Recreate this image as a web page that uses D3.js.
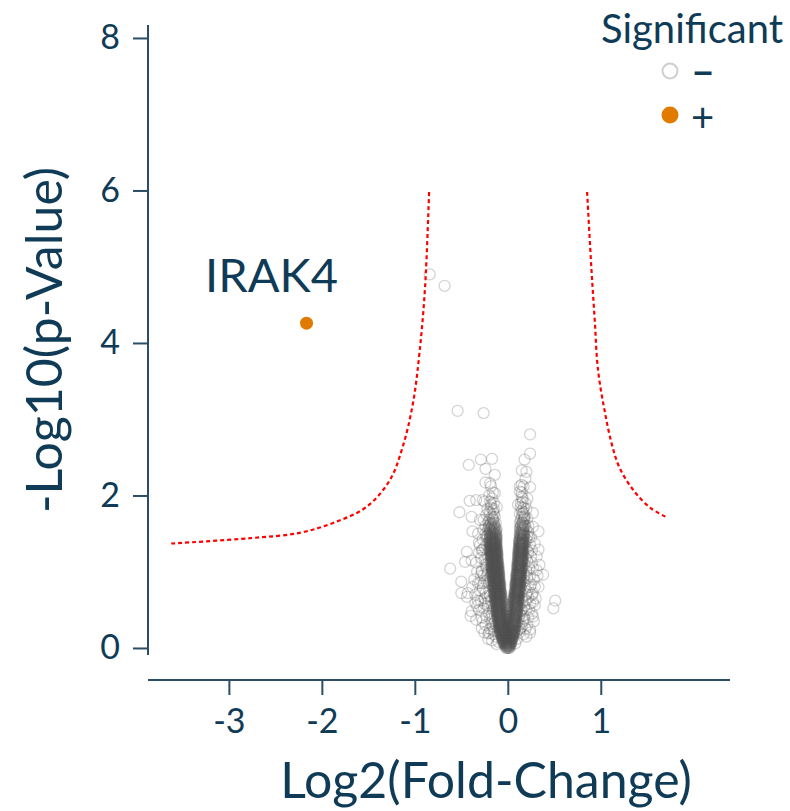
<!DOCTYPE html>
<html><head><meta charset="utf-8">
<script src="https://cdn.jsdelivr.net/npm/d3@7"></script>
<style>
body{margin:0;background:#fff}
svg{display:block}
text{font-family:Lato,"Open Sans",sans-serif}
</style>
</head><body>
<svg id="chart" width="790" height="811"></svg>
<script>
// ---------------- data ----------------
const xTickValues = [-3, -2, -1, 0, 1];
const yTickValues = [0, 2, 4, 6, 8];
const xTitle = "Log2(Fold-Change)";
const yTitle = "-Log10(p-Value)";
const legendTitle = "Significant";
const legendLabels = ["\u2212", "+"];

// significant protein
const sigLabels = ["IRAK4"];
const sigX = [-2.165];
const sigY = [4.26];

// significance threshold curves
const threshLeft = [[-3.62,1.37],[-2.77,1.44],[-2.24,1.51],[-1.88,1.64],[-1.52,1.85],[-1.27,2.20],[-1.13,2.64],[-1.02,3.21],[-0.95,3.87],[-0.89,4.73],[-0.846,6.0]];
const threshRight = [[0.853,5.98],[0.90,4.96],[0.935,4.30],[0.97,3.65],[1.04,3.12],[1.115,2.69],[1.20,2.37],[1.35,2.07],[1.53,1.84],[1.70,1.72]];

// non-significant proteins: scattered outer points [log2FC, -log10 p]
const outerPoints = [[-0.84,4.90],[-0.68,4.75],[-0.54,3.11],[-0.26,3.08],[0.24,2.80],[0.24,2.55],[-0.42,2.40],[-0.29,2.47],[-0.17,2.48],[-0.24,2.35],[0.18,2.47],[0.15,2.33],[0.20,2.31],[-0.14,2.27],[-0.24,2.17],[-0.19,2.16],[0.15,2.14],[0.24,2.11],[0.19,2.22],[-0.14,2.03],[-0.41,1.93],[-0.34,1.94],[-0.27,1.94],[-0.19,1.92],[-0.12,1.85],[0.11,1.88],[0.21,1.96],[-0.52,1.78],[-0.39,1.72],[0.18,1.74],[0.27,1.77],[-0.30,1.68],[-0.38,1.53],[-0.32,1.50],[0.33,1.53],[0.27,1.59],[-0.44,1.26],[-0.46,1.13],[-0.39,1.15],[-0.30,1.35],[0.29,1.37],[0.33,1.29],[0.34,1.09],[0.38,0.96],[-0.62,1.04],[-0.50,0.87],[-0.50,0.72],[-0.43,0.72],[-0.39,0.48],[-0.40,0.42],[-0.28,0.26],[0.51,0.62],[0.49,0.52],[0.27,0.72],[0.29,0.56],[0.24,0.24],[0.20,0.15],[-0.21,0.19],[-0.35,0.59],[-0.32,0.85],[-0.28,1.00],[0.31,1.02],[0.25,1.20],[0.20,1.55],[-0.23,1.46],[-0.27,1.29],[0.25,0.83],[0.27,0.41],[-0.44,0.67],[-0.34,0.37]];

// medium-density halo around the core
const haloPoints = [[-0.13,0.15],[-0.15,0.22],[-0.12,0.30],[-0.17,0.35],[-0.14,0.42],[-0.20,0.45],[-0.16,0.50],[-0.22,0.55],[-0.13,0.58],[-0.18,0.62],[-0.25,0.65],[-0.15,0.70],[-0.20,0.75],[-0.27,0.78],[-0.17,0.82],[-0.23,0.88],[-0.19,0.92],[-0.26,0.95],[-0.21,1.00],[-0.18,1.05],[-0.24,1.10],[-0.20,1.15],[-0.29,1.18],[-0.22,1.22],[-0.19,1.27],[-0.25,1.32],[-0.21,1.38],[-0.27,1.42],[-0.22,1.48],[-0.19,1.55],[-0.24,1.60],[-0.21,1.65],[-0.16,1.70],[-0.20,1.78],[-0.15,1.82],[-0.18,1.88],[-0.23,1.75],[-0.31,0.50],[-0.28,0.40],[-0.24,0.30],[-0.19,0.25],[-0.21,0.12],[-0.10,0.08],[-0.30,0.85],[-0.33,1.00],[-0.35,0.70],[-0.31,1.25],[-0.36,0.90],[-0.12,0.05],[-0.16,0.78],[-0.22,0.68],[-0.18,0.98],[-0.23,1.05],[-0.17,1.40],[-0.26,1.55],[-0.15,0.55],[-0.29,0.62],[-0.25,0.20],[-0.17,0.10],
[-0.16,0.28],[-0.19,0.38],[-0.23,0.42],[-0.17,0.55],[-0.21,0.60],[-0.26,0.52],[-0.19,0.68],[-0.24,0.72],[-0.30,0.75],[-0.18,0.88],[-0.22,0.95],[-0.28,1.02],[-0.25,1.16],[-0.20,1.30],[-0.23,1.36],[-0.28,1.28],[-0.19,1.45],[-0.24,1.50],[-0.21,1.56],[-0.26,1.68],[-0.22,1.82],[-0.25,1.92],[-0.20,2.00],[-0.14,0.35],[-0.27,0.35],[-0.32,0.62],[-0.29,0.95],[-0.34,1.12],[-0.26,0.85],[-0.15,0.18],[-0.20,0.20],[-0.11,0.22],[-0.33,0.55],[-0.38,0.80],[-0.31,1.38],[-0.17,0.45],[-0.22,1.10],[-0.18,1.20],[-0.25,0.58],[-0.20,0.85],
[0.10,0.12],[0.12,0.20],[0.15,0.28],[0.10,0.34],[0.18,0.38],[0.13,0.44],[0.20,0.50],[0.12,0.55],[0.16,0.60],[0.22,0.66],[0.14,0.72],[0.19,0.78],[0.24,0.80],[0.16,0.86],[0.21,0.92],[0.17,0.98],[0.23,1.04],[0.18,1.10],[0.26,1.12],[0.19,1.18],[0.22,1.25],[0.18,1.30],[0.24,1.35],[0.20,1.42],[0.17,1.48],[0.22,1.52],[0.19,1.60],[0.16,1.65],[0.21,1.70],[0.17,1.78],[0.14,1.85],[0.19,1.90],[0.15,1.98],[0.13,2.05],[0.17,2.12],[0.28,0.90],[0.30,0.65],[0.26,0.45],[0.21,0.30],[0.17,0.18],[0.08,0.06],[0.24,0.20],[0.31,1.20],[0.27,0.60],[0.33,0.80],[0.15,0.50],[0.20,0.70],[0.14,0.95],[0.17,1.22],[0.23,1.45],[0.12,0.40],[0.18,0.88],
[0.13,0.25],[0.16,0.35],[0.22,0.40],[0.14,0.48],[0.18,0.55],[0.24,0.58],[0.15,0.65],[0.21,0.74],[0.26,0.70],[0.14,0.80],[0.18,0.95],[0.24,0.95],[0.20,1.02],[0.27,1.05],[0.16,1.15],[0.21,1.14],[0.20,1.30],[0.26,1.28],[0.19,1.38],[0.22,1.60],[0.18,1.70],[0.20,1.82],[0.16,1.92],[0.29,0.80],[0.23,0.50],[0.10,0.22],[0.19,0.25],[0.28,0.35],[0.32,0.95],[0.25,1.45],[0.17,0.42],[0.16,1.05],[0.21,1.46],[0.12,0.30],[0.20,0.62]];

// dense core: each row = [ -log10 p, [log2FC values] ]
const coreRows = [
[0.00,[-0.02,-0.01,0,0.01,0.02]],
[0.02,[-0.025,-0.015,-0.005,0.005,0.015,0.025]],
[0.04,[-0.03,-0.02,-0.01,0,0.01,0.02,0.03]],
[0.06,[-0.045,-0.035,-0.025,-0.015,-0.005,0.005,0.015,0.025,0.035]],
[0.08,[-0.05,-0.04,-0.03,-0.02,-0.01,0,0.01,0.02,0.03,0.04]],
[0.10,[-0.055,-0.045,-0.035,-0.025,-0.015,-0.005,0.005,0.015,0.025,0.035,0.045]],
[0.12,[-0.06,-0.05,-0.04,-0.03,-0.02,-0.01,0,0.01,0.02,0.03,0.04,0.05]],
[0.14,[-0.065,-0.055,-0.045,-0.035,-0.025,-0.015,-0.005,0.005,0.015,0.025,0.035,0.045,0.055]],
[0.16,[-0.07,-0.06,-0.05,-0.04,-0.03,-0.02,-0.01,0,0.01,0.02,0.03,0.04,0.05,0.06]],
[0.18,[-0.075,-0.065,-0.055,-0.045,-0.035,-0.025,-0.015,0.005,0.025,0.035,0.045,0.055,0.065]],
[0.20,[-0.08,-0.07,-0.06,-0.05,-0.04,-0.03,-0.02,0,0.02,0.03,0.04,0.05,0.06,0.07]],
[0.22,[-0.085,-0.075,-0.065,-0.055,-0.045,-0.035,-0.015,0.015,0.035,0.045,0.055,0.065,0.075]],
[0.24,[-0.09,-0.08,-0.07,-0.06,-0.05,-0.04,-0.02,0,0.02,0.04,0.05,0.06,0.07]],
[0.26,[-0.095,-0.085,-0.075,-0.065,-0.055,-0.045,-0.025,0.005,0.035,0.045,0.055,0.065,0.075]],
[0.28,[-0.09,-0.08,-0.07,-0.06,-0.05,-0.03,0,0.03,0.05,0.06,0.07,0.08]],
[0.30,[-0.095,-0.085,-0.075,-0.065,-0.055,-0.035,-0.005,0.025,0.045,0.055,0.065,0.075,0.085]],
[0.32,[-0.10,-0.09,-0.08,-0.07,-0.06,-0.04,-0.01,0.02,0.05,0.06,0.07,0.08]],
[0.34,[-0.105,-0.095,-0.085,-0.075,-0.065,-0.045,0.005,0.045,0.065,0.075,0.085]],
[0.36,[-0.10,-0.09,-0.08,-0.07,-0.06,-0.04,0,0.04,0.06,0.07,0.08,0.09]],
[0.38,[-0.105,-0.095,-0.085,-0.075,-0.065,-0.045,-0.015,0.025,0.055,0.065,0.075,0.085]],
[0.40,[-0.11,-0.10,-0.09,-0.08,-0.07,-0.05,0,0.05,0.07,0.08,0.09]],
[0.42,[-0.115,-0.105,-0.095,-0.085,-0.075,-0.055,-0.015,0.025,0.055,0.075,0.085,0.095]],
[0.44,[-0.11,-0.10,-0.09,-0.08,-0.07,-0.05,0,0.05,0.07,0.08,0.09,0.10]],
[0.46,[-0.115,-0.105,-0.095,-0.085,-0.075,-0.055,-0.015,0.025,0.065,0.075,0.085,0.095]],
[0.48,[-0.12,-0.11,-0.10,-0.09,-0.08,-0.06,0,0.06,0.08,0.09,0.10]],
[0.50,[-0.125,-0.115,-0.105,-0.095,-0.085,-0.065,-0.025,0.025,0.065,0.085,0.095,0.105]],
[0.52,[-0.12,-0.11,-0.10,-0.09,-0.08,-0.06,0,0.06,0.08,0.09,0.10]],
[0.54,[-0.125,-0.115,-0.105,-0.095,-0.085,-0.065,-0.035,0.035,0.065,0.085,0.095,0.105]],
[0.56,[-0.12,-0.11,-0.10,-0.09,-0.08,-0.07,0,0.07,0.08,0.09,0.10,0.11]],
[0.58,[-0.125,-0.115,-0.105,-0.095,-0.085,-0.075,-0.055,0.055,0.075,0.085,0.095,0.105]],
[0.60,[-0.13,-0.12,-0.11,-0.10,-0.09,-0.08,-0.06,0.06,0.08,0.09,0.10,0.11]],
[0.62,[-0.135,-0.125,-0.115,-0.105,-0.095,-0.085,-0.065,0.065,0.075,0.085,0.095,0.105,0.115]],
[0.64,[-0.13,-0.12,-0.11,-0.10,-0.09,-0.08,-0.07,0.06,0.07,0.08,0.09,0.10,0.11,0.12]],
[0.66,[-0.135,-0.125,-0.115,-0.105,-0.095,-0.085,-0.065,0.065,0.075,0.085,0.095,0.105,0.115]],
[0.68,[-0.14,-0.13,-0.12,-0.11,-0.10,-0.09,-0.08,-0.07,0.07,0.08,0.09,0.10,0.11,0.12]],
[0.70,[-0.145,-0.135,-0.125,-0.115,-0.105,-0.095,-0.085,-0.075,0.075,0.085,0.095,0.105,0.115]],
[0.72,[-0.14,-0.13,-0.12,-0.11,-0.10,-0.09,-0.08,-0.07,0.07,0.08,0.09,0.10,0.11,0.12]],
[0.74,[-0.145,-0.135,-0.125,-0.115,-0.105,-0.095,-0.085,-0.075,0.075,0.085,0.095,0.105,0.115,0.125]],
[0.76,[-0.15,-0.14,-0.13,-0.12,-0.11,-0.10,-0.09,-0.08,0.08,0.09,0.10,0.11,0.12,0.13]],
[0.78,[-0.145,-0.135,-0.125,-0.115,-0.105,-0.095,-0.085,0.085,0.095,0.105,0.115,0.125]],
[0.80,[-0.15,-0.14,-0.13,-0.12,-0.11,-0.10,-0.09,-0.08,0.08,0.09,0.10,0.11,0.12,0.13]],
[0.82,[-0.155,-0.145,-0.135,-0.125,-0.115,-0.105,-0.095,-0.085,0.085,0.095,0.105,0.115,0.125]],
[0.84,[-0.15,-0.14,-0.13,-0.12,-0.11,-0.10,-0.09,-0.08,0.08,0.09,0.10,0.11,0.12,0.13]],
[0.86,[-0.155,-0.145,-0.135,-0.125,-0.115,-0.105,-0.095,-0.085,0.085,0.095,0.105,0.115,0.125,0.135]],
[0.88,[-0.16,-0.15,-0.14,-0.13,-0.12,-0.11,-0.10,-0.09,0.09,0.10,0.11,0.12,0.13,0.14]],
[0.90,[-0.155,-0.145,-0.135,-0.125,-0.115,-0.105,-0.095,0.095,0.105,0.115,0.125,0.135]],
[0.92,[-0.16,-0.15,-0.14,-0.13,-0.12,-0.11,-0.10,-0.09,0.09,0.10,0.11,0.12,0.13,0.14]],
[0.94,[-0.165,-0.155,-0.145,-0.135,-0.125,-0.115,-0.105,-0.095,0.095,0.105,0.115,0.125,0.135]],
[0.96,[-0.16,-0.15,-0.14,-0.13,-0.12,-0.11,-0.10,-0.09,0.09,0.10,0.11,0.12,0.13,0.14]],
[0.98,[-0.165,-0.155,-0.145,-0.135,-0.125,-0.115,-0.105,-0.095,0.095,0.105,0.115,0.125,0.135,0.145]],
[1.00,[-0.17,-0.16,-0.15,-0.14,-0.13,-0.12,-0.11,-0.10,0.10,0.11,0.12,0.13,0.14]],
[1.02,[-0.165,-0.155,-0.145,-0.135,-0.125,-0.115,-0.105,-0.095,0.105,0.115,0.125,0.135,0.145]],
[1.04,[-0.17,-0.16,-0.15,-0.14,-0.13,-0.12,-0.11,-0.10,0.10,0.11,0.12,0.13,0.14,0.15]],
[1.06,[-0.175,-0.165,-0.155,-0.145,-0.135,-0.125,-0.115,-0.105,0.105,0.115,0.125,0.135,0.145]],
[1.08,[-0.17,-0.16,-0.15,-0.14,-0.13,-0.12,-0.11,-0.10,0.10,0.11,0.12,0.13,0.14,0.15]],
[1.10,[-0.175,-0.165,-0.155,-0.145,-0.135,-0.125,-0.115,-0.105,0.105,0.115,0.125,0.135,0.145]],
[1.12,[-0.18,-0.17,-0.16,-0.15,-0.14,-0.13,-0.12,-0.11,0.11,0.12,0.13,0.14,0.15]],
[1.14,[-0.175,-0.165,-0.155,-0.145,-0.135,-0.125,-0.115,-0.105,0.105,0.115,0.125,0.135,0.145,0.155]],
[1.16,[-0.18,-0.17,-0.16,-0.15,-0.14,-0.13,-0.12,-0.11,0.11,0.12,0.13,0.14,0.15,0.16]],
[1.18,[-0.175,-0.165,-0.155,-0.145,-0.135,-0.125,-0.115,0.115,0.125,0.135,0.145,0.155]],
[1.20,[-0.18,-0.17,-0.16,-0.15,-0.14,-0.13,-0.12,-0.11,0.11,0.12,0.13,0.14,0.15,0.16]],
[1.22,[-0.185,-0.175,-0.165,-0.155,-0.145,-0.135,-0.125,-0.115,0.115,0.125,0.135,0.145,0.155]],
[1.24,[-0.18,-0.17,-0.16,-0.15,-0.14,-0.13,-0.12,-0.11,0.11,0.12,0.13,0.14,0.15,0.16]],
[1.26,[-0.185,-0.175,-0.165,-0.155,-0.145,-0.135,-0.125,-0.115,0.115,0.125,0.135,0.145,0.155,0.165]],
[1.28,[-0.19,-0.18,-0.17,-0.16,-0.15,-0.14,-0.13,-0.12,0.12,0.13,0.14,0.15,0.16]],
[1.30,[-0.185,-0.175,-0.165,-0.155,-0.145,-0.135,-0.125,-0.115,0.115,0.125,0.135,0.145,0.155,0.165]],
[1.32,[-0.19,-0.18,-0.17,-0.16,-0.15,-0.14,-0.13,-0.12,0.12,0.13,0.14,0.15,0.16]],
[1.34,[-0.185,-0.175,-0.165,-0.155,-0.145,-0.135,-0.125,0.125,0.135,0.145,0.155,0.165]],
[1.36,[-0.19,-0.18,-0.17,-0.16,-0.15,-0.14,-0.13,-0.12,0.12,0.13,0.14,0.15,0.16,0.17]],
[1.38,[-0.195,-0.175,-0.165,-0.155,-0.145,-0.135,-0.125,0.125,0.135,0.145,0.155,0.165]],
[1.40,[-0.19,-0.18,-0.16,-0.15,-0.14,-0.13,-0.12,0.12,0.13,0.15,0.16,0.17]],
[1.42,[-0.195,-0.175,-0.165,-0.145,-0.125,0.125,0.145,0.155,0.165]],
[1.44,[-0.19,-0.17,-0.16,-0.14,-0.13,-0.12,0.13,0.14,0.16,0.17]],
[1.46,[-0.185,-0.165,-0.145,-0.125,0.135,0.155,0.175]],
[1.48,[-0.19,-0.17,-0.15,-0.13,-0.12,0.13,0.14,0.16,0.17]],
[1.50,[-0.195,-0.175,-0.155,-0.135,0.135,0.155,0.175]],
[1.52,[-0.19,-0.17,-0.15,-0.13,0.13,0.15,0.17]],
[1.54,[-0.185,-0.165,-0.145,-0.125,0.145,0.165]],
[1.56,[-0.19,-0.16,-0.14,-0.12,0.13,0.15,0.17]],
[1.58,[-0.205,-0.175,-0.145,0.135,0.165]],
[1.60,[-0.20,-0.17,-0.14,0.14,0.16,0.18]],
[1.62,[-0.185,-0.155,0.145,0.175]],
[1.64,[-0.18,-0.15,-0.13,0.13,0.16]],
[1.68,[-0.20,-0.16,0.14,0.17]],
[1.72,[-0.17,-0.14,0.15,0.18]],
[1.76,[-0.19,-0.15,0.13,0.16]],
[1.80,[-0.16,0.15]],
[1.84,[-0.18,0.17]],
[1.90,[-0.15,0.14]],
[1.96,[-0.17,0.16]],
[2.04,[-0.16,0.15]],
[2.12,[-0.18,0.13]]
];

// ---------------- drawing ----------------
const navy = "#0f3b57";
const axisCol = "#2a4e66";
const svg = d3.select("#chart");

const x = d3.scaleLinear().domain([-3.87, 2.39]).range([148, 730]);
const y = d3.scaleLinear().domain([-0.42, 8.17]).range([680, 25]);

// points
const nonSig = [];
coreRows.forEach(r => r[1].forEach(v => nonSig.push([v, r[0]])));
haloPoints.forEach(p => nonSig.push(p));
outerPoints.forEach(p => nonSig.push(p));

svg.append("g").selectAll("circle").data(nonSig).join("circle")
  .attr("cx", d => x(d[0])).attr("cy", d => y(d[1])).attr("r", 5.5)
  .attr("fill", "none").attr("stroke", "#555").attr("stroke-opacity", 0.25).attr("stroke-width", 1.3);

// threshold curves
const line = d3.line().x(d => x(d[0])).y(d => y(d[1])).curve(d3.curveCatmullRom);
[threshLeft, threshRight].forEach(t => {
  svg.append("path").attr("d", line(t)).attr("fill", "none")
    .attr("stroke", "#ff0000").attr("stroke-width", 2.2).attr("stroke-dasharray", "4,3");
});

// significant point + label
sigX.forEach((v, i) => {
  svg.append("circle").attr("cx", x(v)).attr("cy", y(sigY[i])).attr("r", 6.5).attr("fill", "#e07b00");
  svg.append("text").attr("x", x(v) - 35).attr("y", y(sigY[i]) - 31)
    .attr("text-anchor", "middle").attr("font-size", 47).attr("fill", navy).text(sigLabels[i]);
});

// axes
const xAxis = d3.axisBottom(x).tickValues(xTickValues).tickSize(15).tickPadding(14).tickFormat(d3.format("d"));
const yAxis = d3.axisLeft(y).tickValues(yTickValues).tickSize(15).tickPadding(13).tickFormat(d3.format("d"));

const gx = svg.append("g").attr("transform", "translate(0,680)").call(xAxis);
const gy = svg.append("g").attr("transform", "translate(148,0)").call(yAxis);
[gx, gy].forEach(g => {
  g.select(".domain").attr("stroke", axisCol).attr("stroke-width", 2);
  g.selectAll(".tick line").attr("stroke", axisCol).attr("stroke-width", 2);
  g.selectAll(".tick text").attr("fill", navy).attr("font-size", 34).attr("font-family", "Lato");
});
gx.select(".domain").attr("d", "M148,0H730");
gy.select(".domain").attr("d", "M0,655V25");
gx.selectAll(".tick text").text(d => d < 0 ? "-" + Math.abs(d) : d);

// axis titles
svg.append("text").attr("x", 486).attr("y", 798).attr("text-anchor", "middle")
  .attr("font-size", 50).attr("fill", navy).text(xTitle);
svg.append("text").attr("transform", "translate(62,340) rotate(-90)").attr("text-anchor", "middle")
  .attr("font-size", 50).attr("fill", navy).text(yTitle);

// legend
svg.append("text").attr("x", 692).attr("y", 43).attr("text-anchor", "middle")
  .attr("font-size", 40).attr("fill", navy).text(legendTitle);
svg.append("circle").attr("cx", 670).attr("cy", 71).attr("r", 7.5)
  .attr("fill", "none").attr("stroke", "#cfcfcf").attr("stroke-width", 2);
svg.append("circle").attr("cx", 670).attr("cy", 115).attr("r", 8.5).attr("fill", "#e07b00");
svg.append("text").attr("x", 692).attr("y", 71).attr("dominant-baseline", "central")
  .attr("font-size", 38).attr("font-weight", 700).attr("fill", navy).text(legendLabels[0]);
svg.append("text").attr("x", 691).attr("y", 117).attr("dominant-baseline", "central")
  .attr("font-size", 40).attr("fill", navy).text(legendLabels[1]);
</script>
</body></html>
